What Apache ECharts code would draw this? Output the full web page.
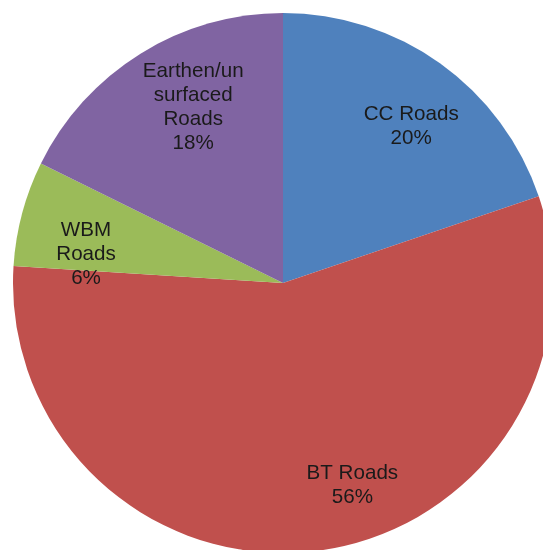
<!DOCTYPE html>
<html>
<head>
<meta charset="utf-8">
<script src="https://cdn.jsdelivr.net/npm/echarts@6/dist/echarts.min.js"></script>
<style>
  html, body { margin: 0; padding: 0; background: #fff; }
  #chart { width: 543px; height: 550px; }
</style>
</head>
<body>
<div id="chart"></div>
<script>
// road types, clockwise from 12 o'clock
const categories = ['CC Roads', 'BT Roads', 'WBM\nRoads', 'Earthen/un\nsurfaced\nRoads']
const shares = [19.8, 56.2, 6.3, 17.7]

const colors = ['#4f81bd', '#c0504d', '#9bbb59', '#8064a2']
// small nudges so labels sit where the original placed them
const labelNudge = [[7, 12], [42, -4], [4, 25], [20, 1]]

const chart = echarts.init(document.getElementById('chart'))

const pieData = categories.map((name, i) => ({ name: name, value: shares[i] }))

chart.setOption({
  backgroundColor: '#fff',
  animation: false,
  color: colors,
  series: [
    {
      type: 'pie',
      center: [283, 283],
      radius: [0, 270],
      startAngle: 90,
      silent: true,
      label: { show: false },
      labelLine: { show: false },
      data: pieData
    },
    {
      // transparent ring only used to put labels at ~3/4 radius
      type: 'pie',
      center: [283, 283],
      radius: [140, 270],
      startAngle: 90,
      silent: true,
      percentPrecision: 0,
      avoidLabelOverlap: false,
      itemStyle: { color: 'rgba(0,0,0,0)' },
      labelLine: { show: false },
      label: {
        show: true,
        position: 'inside',
        formatter: '{b}\n{d}%',
        fontFamily: '"Liberation Sans", Arial, sans-serif',
        fontSize: 20.6,
        lineHeight: 24,
        color: '#1a1a1a',
        align: 'center'
      },
      data: pieData.map((d, i) => ({
        name: d.name,
        value: d.value,
        label: { offset: labelNudge[i] }
      }))
    }
  ]
})
</script>
</body>
</html>
